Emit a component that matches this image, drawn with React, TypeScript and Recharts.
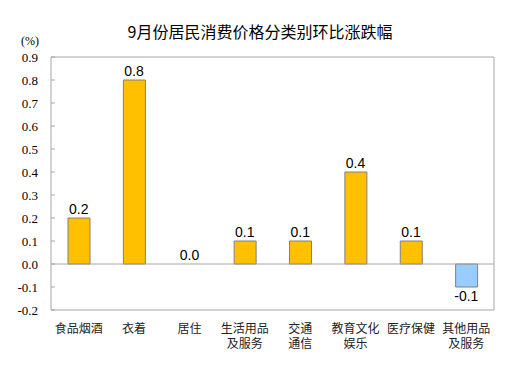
import React from 'react';
import { ComposedChart, Bar, Line, XAxis, YAxis, ReferenceLine, LabelList, Cell } from 'recharts';

const categories = ['食品烟酒', '衣着', '居住', '生活用品\n及服务', '交通\n通信', '教育文化\n娱乐', '医疗保健', '其他用品\n及服务'];
const values = [0.2, 0.8, 0.0, 0.1, 0.1, 0.4, 0.1, -0.1];
const yTicks = [-0.2, -0.1, 0, 0.1, 0.2, 0.3, 0.4, 0.5, 0.6, 0.7, 0.8, 0.9];

const data = categories.map((c, i) => ({ name: c, value: values[i] }));

const GREY = '#a6a6a6';

const YTick = (props: any) => {
  const { x, y, payload } = props;
  return (
    <g>
      <line x1={x + 6} x2={x + 10} y1={y} y2={y} stroke={GREY} />
      <text x={x - 7} y={y} dy={4.5} textAnchor="end" fontFamily="'Liberation Serif', serif" fontSize={13} fill="#000">
        {Number(payload.value).toFixed(1)}
      </text>
    </g>
  );
};

const XTick = (props: any) => {
  const { x, y, payload } = props;
  const lines = String(payload.value).split('\n');
  return (
    <g>
      {lines.map((l, i) => (
        <text key={i} x={x} y={y + 15 + i * 15} textAnchor="middle" fontFamily="'Noto Sans CJK SC', sans-serif" fontSize={12} fill="#222">
          {l}
        </text>
      ))}
    </g>
  );
};

const ValueLabel = (props: any) => {
  const { x, y, value } = props;
  const neg = value < 0;
  const ty = neg ? y + 14 : y - 4;
  return (
    <text x={x} y={ty} textAnchor="middle" fontFamily="'Liberation Sans', Arial, sans-serif" fontSize={14} fill="#000">
      {Number(value).toFixed(1)}
    </text>
  );
};

export default function App() {
  return (
    <div style={{ position: 'absolute', left: 0, top: 0, width: 529, height: 378, background: '#fff' }}>
      <div style={{ position: 'absolute', left: 0, top: 19, width: 520, textAlign: 'center', fontFamily: "'Noto Sans CJK SC', sans-serif", fontSize: 16, color: '#000' }}>
        9月份居民消费价格分类别环比涨跌幅
      </div>
      <div style={{ position: 'absolute', left: 21, top: 34, fontFamily: "'Liberation Serif', serif", fontSize: 12, color: '#000' }}>
        (%)
      </div>
      <ComposedChart width={529} height={378} data={data} margin={{ top: 0, right: 0, bottom: 0, left: 0 }} barCategoryGap="20%">
        <XAxis dataKey="name" xAxisId="b" axisLine={{ stroke: GREY }} tickLine={false} tick={<XTick />} interval={0} height={68} />
        <XAxis dataKey="name" xAxisId="t" orientation="top" axisLine={{ stroke: GREY }} tickLine={false} tick={false} height={57} />
        <YAxis yAxisId="l" domain={[-0.2, 0.9]} ticks={yTicks} axisLine={{ stroke: GREY }} tickSize={0} tickMargin={6} tick={<YTick />} width={51} interval={0} />
        <YAxis yAxisId="r" orientation="right" domain={[-0.2, 0.9]} axisLine={{ stroke: GREY }} tickLine={false} tick={false} width={35} />
        <ReferenceLine y={0} xAxisId="b" yAxisId="l" stroke={GREY} />
        <Bar dataKey="value" xAxisId="b" yAxisId="l" barSize={22} stroke="#808080" strokeWidth={1} isAnimationActive={false}>
          {data.map((d, i) => (
            <Cell key={i} fill={d.value < 0 ? '#99ccff' : '#ffc000'} />
          ))}
        </Bar>
        <Line dataKey="value" xAxisId="b" yAxisId="l" stroke="none" dot={false} activeDot={false} isAnimationActive={false}>
          <LabelList dataKey="value" content={<ValueLabel />} />
        </Line>
      </ComposedChart>
    </div>
  );
}
